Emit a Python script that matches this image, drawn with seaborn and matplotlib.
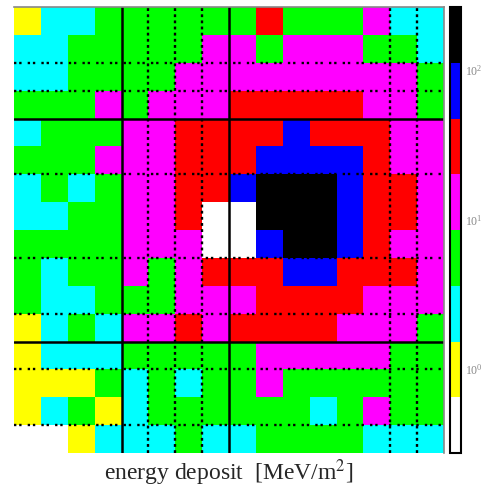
import numpy as np
import pandas as pd
import matplotlib
matplotlib.use("Agg")
import matplotlib.pyplot as plt
import seaborn as sns
from matplotlib.colors import ListedColormap, LogNorm

# colour classes: 0 white .. 7 black
grid_rows = [
    "1223333335333422",
    "2233333443444332",
    "2233334444444443",
    "3334344455555443",
    "2333445555655544",
    "3334445556666544",
    "2323445567776554",
    "2233445007776554",
    "3333444006776544",
    "3233434555665554",
    "3223334445555444",
    "1232445455554443",
    "1222333334444433",
    "1113232334333333",
    "1231233333323433",
    "0012223223333222",
]

# deposit in each colour class [MeV/m^2]
class_colors = ["#ffffff", "#ffff00", "#00ffff", "#00ff00",
                "#ff00ff", "#ff0000", "#0000ff", "#000000"]
class_energy = [0.4, 1.0, 2.3, 5.5, 13.0, 30.0, 72.0, 170.0]
cbar_min, cbar_max = 0.275, 263.0

# module boundaries (solid) and cell boundaries (dotted)
solid_x = [4, 8]
solid_y = [4, 12]
dotted_x = [5, 6, 7, 14, 15]
dotted_y = [2, 3, 6, 9, 11, 13, 15]

levels = np.array([[int(c) for c in r] for r in grid_rows])
energy = pd.DataFrame(np.array(class_energy)[levels])

sns.set_style("white")
plt.rcParams["font.family"] = ["Liberation Serif", "DejaVu Serif"]
plt.rcParams["mathtext.fontset"] = "stix"

fig = plt.figure(figsize=(4.87, 4.91), dpi=100)
ax = fig.add_axes([14 / 487, 1 - 453 / 491, 430 / 487, 446 / 491])
cax = fig.add_axes([450 / 487, 1 - 453 / 491, 11 / 487, 446 / 491])

sns.heatmap(energy, ax=ax, cbar_ax=cax, cmap=ListedColormap(class_colors),
            norm=LogNorm(vmin=cbar_min, vmax=cbar_max),
            xticklabels=False, yticklabels=False, linewidths=0)

for x in solid_x:
    ax.axvline(x, color="black", lw=1.8)
for y in solid_y:
    ax.axhline(y, color="black", lw=1.8)
for x in dotted_x:
    ax.axvline(x, color="black", lw=1.7, ls=(0, (1.2, 1.4)))
for y in dotted_y:
    ax.axhline(y, color="black", lw=1.7, ls=(0, (1, 1.2, 1, 2.6)))

ax.tick_params(length=0)
for side in ["top", "right"]:
    ax.spines[side].set_visible(True)
    ax.spines[side].set_color("#888888")
    ax.spines[side].set_linewidth(1.2)
ax.set_xlabel("energy deposit  [MeV/m$^2$]", fontsize=17, labelpad=3)

cb = ax.collections[0].colorbar
cb.outline.set_linewidth(1.5)
cb.outline.set_edgecolor("black")
cb.minorticks_on()
cax.tick_params(which="major", direction="in", length=8, width=1.5,
                labelsize=8.5, labelcolor="#888888", pad=3)
cax.tick_params(which="minor", direction="in", length=2.5, width=1.2)

plt.savefig("out.png", dpi=100)
